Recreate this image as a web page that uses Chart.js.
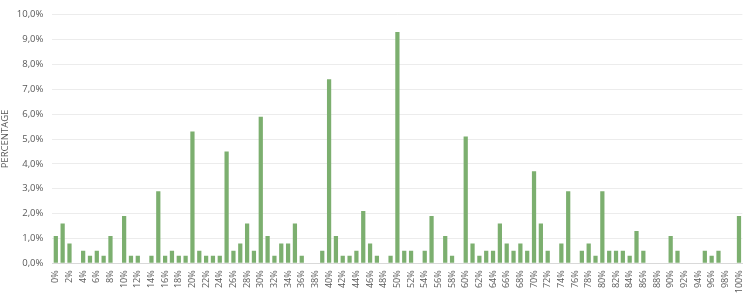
<!DOCTYPE html>
<html>
<head>
<meta charset="utf-8">
<script src="https://cdn.jsdelivr.net/npm/chart.js@4"></script>
<style>
html,body{margin:0;padding:0;background:#fff;}
#wrap{width:750px;height:300px;position:relative;}
</style>
</head>
<body>
<div id="wrap"><canvas id="c" width="750" height="300"></canvas></div>
<script>
// Categories: 0% .. 100%
const categories = [];
for (let i = 0; i <= 100; i++) categories.push(i + '%');

// Percentage of responses per category
const percentages = [
  1.1, 1.6, 0.8, 0,   0.5, 0.3, 0.5, 0.3, 1.1, 0,
  1.9, 0.3, 0.3, 0,   0.3, 2.9, 0.3, 0.5, 0.3, 0.3,
  5.3, 0.5, 0.3, 0.3, 0.3, 4.5, 0.5, 0.8, 1.6, 0.5,
  5.9, 1.1, 0.3, 0.8, 0.8, 1.6, 0.3, 0,   0,   0.5,
  7.4, 1.1, 0.3, 0.3, 0.5, 2.1, 0.8, 0.3, 0,   0.3,
  9.3, 0.5, 0.5, 0,   0.5, 1.9, 0,   1.1, 0.3, 0,
  5.1, 0.8, 0.3, 0.5, 0.5, 1.6, 0.8, 0.5, 0.8, 0.5,
  3.7, 1.6, 0.5, 0,   0.8, 2.9, 0,   0.5, 0.8, 0.3,
  2.9, 0.5, 0.5, 0.5, 0.3, 1.3, 0.5, 0,   0,   0,
  1.1, 0.5, 0,   0,   0,   0.5, 0.3, 0.5, 0,   0,
  1.9
];

// Y tick values
const yTicks = [0,1,2,3,4,5,6,7,8,9,10];

const fmtY = v => v.toFixed(1).replace('.', ',') + '%';

new Chart(document.getElementById('c'), {
  type: 'bar',
  data: {
    labels: categories,
    datasets: [{
      data: percentages,
      backgroundColor: '#7caf6f',
      borderWidth: 0,
      barPercentage: 0.62,
      categoryPercentage: 1.0
    }]
  },
  options: {
    responsive: false,
    animation: false,
    devicePixelRatio: 1,
    layout: { padding: { left: 0, right: 7.6, top: 10, bottom: 0 } },
    plugins: { legend: { display: false }, tooltip: { enabled: false } },
    scales: {
      x: {
        grid: { display: false, drawTicks: false },
        border: { color: '#d9d9d9', width: 1 },
        ticks: {
          autoSkip: false,
          minRotation: 90,
          maxRotation: 90,
          padding: 7,
          color: '#595959',
          font: { family: 'Open Sans', size: 9 },
          callback: function(value, index) {
            return index % 2 === 0 ? categories[index] : '';
          }
        },
        afterFit: function(s) { s.height = 36.7; s.paddingLeft = 0; s.paddingRight = 0; }
      },
      y: {
        min: 0,
        max: 10,
        afterBuildTicks: function(s) { s.ticks = yTicks.map(v => ({ value: v })); },
        grid: { color: '#ececec', drawTicks: false },
        border: { display: false },
        ticks: {
          padding: 9,
          color: '#595959',
          font: { family: 'Open Sans', size: 9.5 },
          callback: v => fmtY(v)
        },
        title: {
          display: true,
          text: 'PERCENTAGE',
          color: '#595959',
          font: { family: 'Open Sans', size: 9.5 },
          padding: { top: 0, bottom: 2 }
        },
        afterFit: function(s) { s.width = 52.4; }
      }
    }
  }
});
</script>
</body>
</html>
